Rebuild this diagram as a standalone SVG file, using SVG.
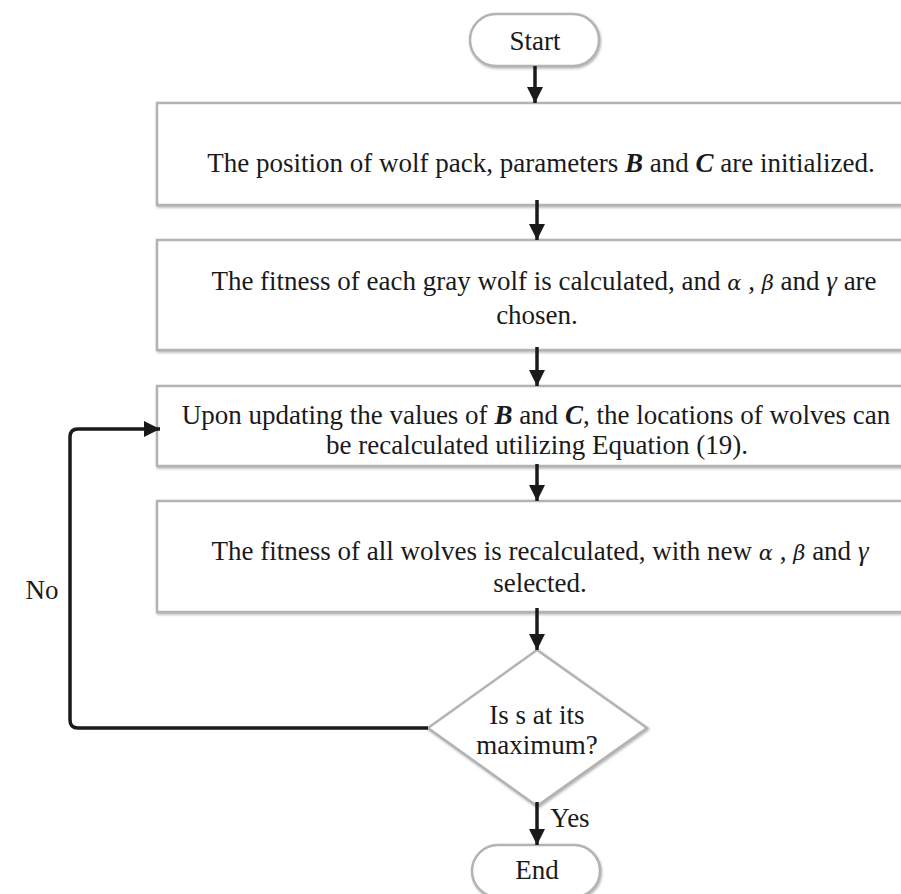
<svg xmlns="http://www.w3.org/2000/svg" width="901" height="894" viewBox="0 0 901 894">
<style>
.box{fill:#fff;stroke:#b3b3b3;stroke-width:2.5;filter:url(#sh)}
.t{font-family:"Liberation Serif","Times New Roman",serif;font-size:27px;fill:#1a1a1a;text-anchor:middle}
.c{stroke:#1a1a1a;stroke-width:3.5;fill:none}
.g{font-style:italic;font-family:"DejaVu Serif","Liberation Serif",serif;font-size:21px;font-weight:normal}
.bi{font-weight:bold;font-style:italic}
</style>
<defs>
<filter id="sh" x="-5%" y="-20%" width="110%" height="140%">
<feDropShadow dx="1" dy="1.5" stdDeviation="1.2" flood-color="#999" flood-opacity="0.7"/>
</filter>
<marker id="ah" markerWidth="4.6" markerHeight="4.6" refX="4.6" refY="2.3" orient="auto" markerUnits="strokeWidth">
<path d="M0,0 L4.6,2.3 L0,4.6 Z" fill="#1a1a1a"/>
</marker>
</defs>
<g id="start"><rect class="box" x="470" y="14" width="129" height="52" rx="26"/><text class="t" x="535" y="50">Start</text></g>
<g id="init"><rect class="box" x="157" y="103" width="760" height="102"/><text class="t" x="541" y="172">The position of wolf pack, parameters <tspan class="bi">B</tspan> and <tspan class="bi">C</tspan> are initialized.</text></g>
<g id="fitness"><rect class="box" x="157" y="240" width="760" height="110"/><text class="t" x="544" y="290">The fitness of each gray wolf is calculated, and  <tspan class="g">α</tspan> ,  <tspan class="g">β</tspan>  and <tspan font-style="italic">γ</tspan> are</text><text class="t" x="537" y="324">chosen.</text></g>
<g id="update"><rect class="box" x="157" y="386" width="760" height="80"/><text class="t" x="536" y="424">Upon updating the values of <tspan class="bi">B</tspan> and <tspan class="bi">C</tspan>, the locations of wolves can</text><text class="t" x="537" y="454">be recalculated utilizing Equation (19).</text></g>
<g id="refit"><rect class="box" x="157" y="501" width="760" height="111"/><text class="t" x="540" y="560">The fitness of all wolves is recalculated, with new <tspan class="g">α</tspan> ,  <tspan class="g">β</tspan>  and <tspan font-style="italic">γ</tspan></text><text class="t" x="540" y="592">selected.</text></g>
<g id="decision"><polygon class="box" points="537,650 647,728 537,806 428,728"/><text class="t" x="537" y="724">Is s at its</text><text class="t" x="537" y="754">maximum?</text></g>
<g id="end"><rect class="box" x="472" y="845" width="128" height="52" rx="26"/><text class="t" x="537" y="879">End</text></g>
<g id="connectors">
<line class="c" x1="535" y1="66" x2="535" y2="103" marker-end="url(#ah)"/>
<line class="c" x1="537" y1="200" x2="537" y2="240" marker-end="url(#ah)"/>
<line class="c" x1="537" y1="347" x2="537" y2="386" marker-end="url(#ah)"/>
<line class="c" x1="537" y1="464" x2="537" y2="501" marker-end="url(#ah)"/>
<line class="c" x1="537" y1="608" x2="537" y2="650" marker-end="url(#ah)"/>
<line class="c" x1="537" y1="802" x2="537" y2="845" marker-end="url(#ah)"/>
<path class="c" d="M428,728 H78 Q70,728 70,720 V437 Q70,429 78,429 H160" marker-end="url(#ah)"/>
<text class="t" x="570" y="827">Yes</text>
<text class="t" x="42" y="599">No</text>
</g>
</svg>
